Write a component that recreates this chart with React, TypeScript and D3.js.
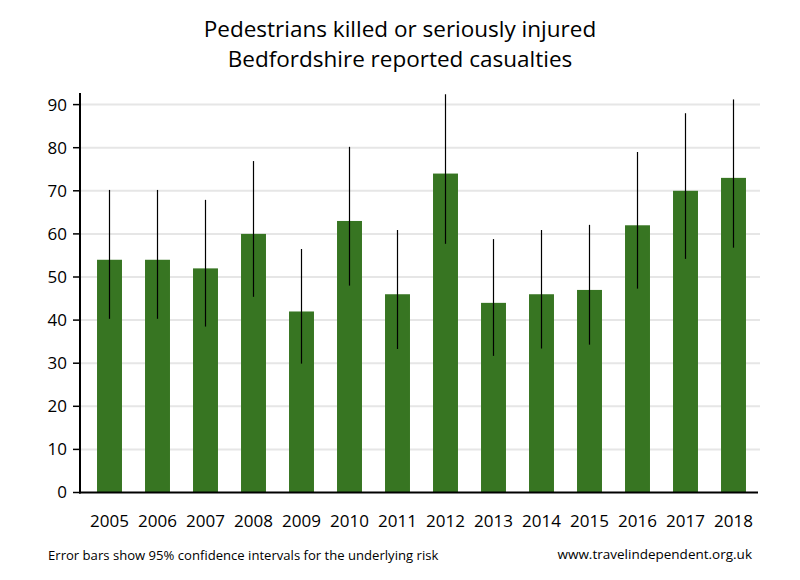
import React from "react";
import * as d3 from "d3";

const years = ["2005","2006","2007","2008","2009","2010","2011","2012","2013","2014","2015","2016","2017","2018"];
const casualties = [54, 54, 52, 60, 42, 63, 46, 74, 44, 46, 47, 62, 70, 73];
const ciLow = [40.3, 40.3, 38.5, 45.4, 29.9, 48.0, 33.3, 57.7, 31.7, 33.4, 34.3, 47.3, 54.2, 56.8];
const ciHigh = [70.2, 70.2, 67.9, 76.9, 56.5, 80.2, 60.9, 92.4, 58.8, 60.9, 62.1, 79.0, 88.0, 91.2];
const yTicks = [0, 10, 20, 30, 40, 50, 60, 70, 80, 90];
const titleLines = ["Pedestrians killed or seriously injured", "Bedfordshire reported casualties"];
const footLeft = "Error bars show 95% confidence intervals for the underlying risk";
const footRight = "www.travelindependent.org.uk";

const W = 800, H = 580;
const FONT = "'Open Sans', 'Noto Sans', sans-serif";

export default function App() {
  const x = d3.scaleBand<string>().domain(years).range([85.5, 757.5]).padding(0);
  const y = d3.scaleLinear().domain([0, 90]).range([492.5, 104.6]);
  const bw = x.bandwidth() * 0.52;
  const axisX = 80;

  return (
    <svg width={W} height={H} style={{ position: "absolute", left: 0, top: 0 }} fontFamily={FONT}>
      <rect width={W} height={H} fill="#fff" />
      {titleLines.map((t, i) => (
        <text key={i} x={400} y={37 + i * 30} textAnchor="middle" fontSize={22.5} fill="#000">{t}</text>
      ))}
      {yTicks.filter(t => t > 0).map(t => (
        <line key={t} x1={axisX} x2={760} y1={y(t)} y2={y(t)} stroke="#e6e6e6" strokeWidth={2} />
      ))}
      {years.map((yr, i) => {
        const cx = (x(yr) as number) + x.bandwidth() / 2;
        return (
          <g key={yr}>
            <rect x={cx - bw / 2} y={y(casualties[i])} width={bw} height={y(0) - y(casualties[i])} fill="#377522" />
            <line x1={cx} x2={cx} y1={y(ciLow[i])} y2={y(ciHigh[i])} stroke="#000" strokeWidth={1.2} />
            <text x={cx} y={527} textAnchor="middle" fontSize={17} fill="#000">{yr}</text>
          </g>
        );
      })}
      {yTicks.map(t => (
        <g key={t}>
          <line x1={73} x2={axisX} y1={y(t)} y2={y(t)} stroke="#000" strokeWidth={1.5} />
          <text x={67} y={y(t)} dy="0.35em" textAnchor="end" fontSize={17} fill="#000">{t}</text>
        </g>
      ))}
      <line x1={axisX} x2={axisX} y1={93} y2={y(0) + 1} stroke="#000" strokeWidth={2} />
      <line x1={axisX - 1} x2={758} y1={y(0)} y2={y(0)} stroke="#000" strokeWidth={2} />
      <text x={48} y={560} fontSize={13.1} fill="#000">{footLeft}</text>
      <text x={752} y={559} textAnchor="end" fontSize={13.5} fill="#000">{footRight}</text>
    </svg>
  );
}
